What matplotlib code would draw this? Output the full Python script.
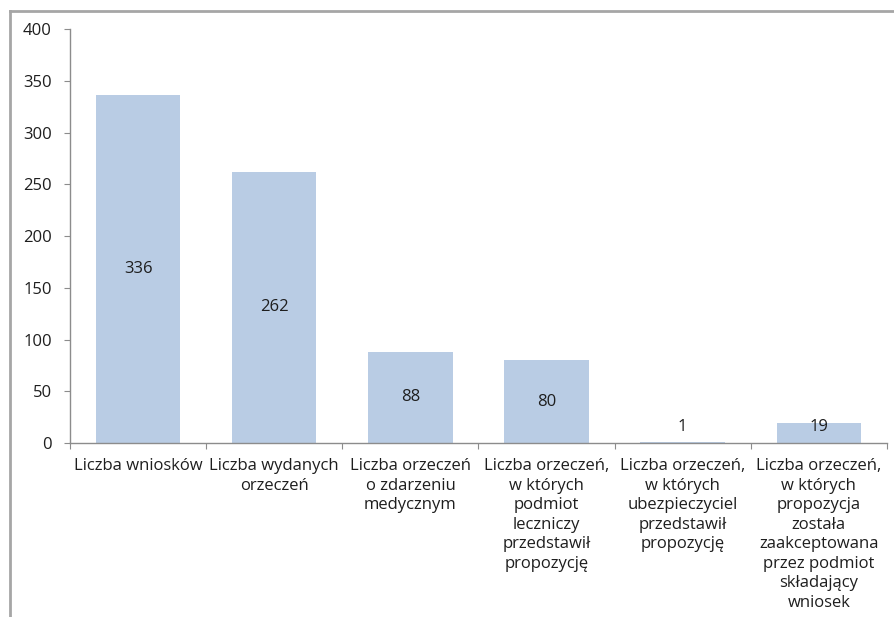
import matplotlib.pyplot as plt
from matplotlib.lines import Line2D

categories = [
    "Liczba wniosków",
    "Liczba wydanych\norzeczeń",
    "Liczba orzeczeń\no zdarzeniu\nmedycznym",
    "Liczba orzeczeń,\nw których\npodmiot\nleczniczy\nprzedstawił\npropozycję",
    "Liczba orzeczeń,\nw których\nubezpieczyciel\nprzedstawił\npropozycję",
    "Liczba orzeczeń,\nw których\npropozycja\nzostała\nzaakceptowana\nprzez podmiot\nskładający\nwniosek",
]
values = [336, 262, 88, 80, 1, 19]
y_ticks = [0, 50, 100, 150, 200, 250, 300, 350, 400]

plt.rcParams['font.family'] = ['Open Sans', 'DejaVu Sans']
text_color = "#1e1e1e"
axis_color = "#8c8c8c"
fs = 12

fig = plt.figure(figsize=(8.95, 6.17), dpi=100)
ax = fig.add_axes([0.0782, 0.282, 0.9128, 0.671])

x = list(range(len(values)))
ax.bar(x, values, width=0.62, color="#b9cce4")

for xi, v in zip(x, values):
    ax.text(xi, max(v / 2, 15.5), str(v), ha="center", va="center",
            fontsize=fs, color=text_color)

ax.set_xlim(-0.5, len(values) - 0.5)
ax.set_ylim(0, 400)
ax.set_yticks(y_ticks)
ax.set_yticklabels([str(t) for t in y_ticks], fontsize=fs, color=text_color)

# category boundaries carry the ticks, labels sit under the bars
ax.set_xticks([i - 0.5 for i in range(len(values) + 1)])
ax.set_xticklabels([])
ax.set_xticks(x, minor=True)
ax.set_xticklabels(categories, minor=True, fontsize=fs, color=text_color,
                   linespacing=1.29, ha="center", va="top")
ax.tick_params(axis="x", which="minor", length=0, pad=11)
ax.tick_params(axis="x", which="major", length=4, color=axis_color, direction="out")
ax.tick_params(axis="y", length=4, color=axis_color, direction="out", pad=9)

for side in ("top", "right"):
    ax.spines[side].set_visible(False)
for side in ("left", "bottom"):
    ax.spines[side].set_color(axis_color)
    ax.spines[side].set_linewidth(1.0)

# outer chart frame
frame = dict(color="#a6a6a6", linewidth=2.0, transform=fig.transFigure)
fig.add_artist(Line2D([10 / 895, 1.0], [1 - 11 / 617, 1 - 11 / 617], **frame))
fig.add_artist(Line2D([10 / 895, 10 / 895], [0.0, 1 - 11 / 617], **frame))

fig.savefig("out.png", dpi=100)
